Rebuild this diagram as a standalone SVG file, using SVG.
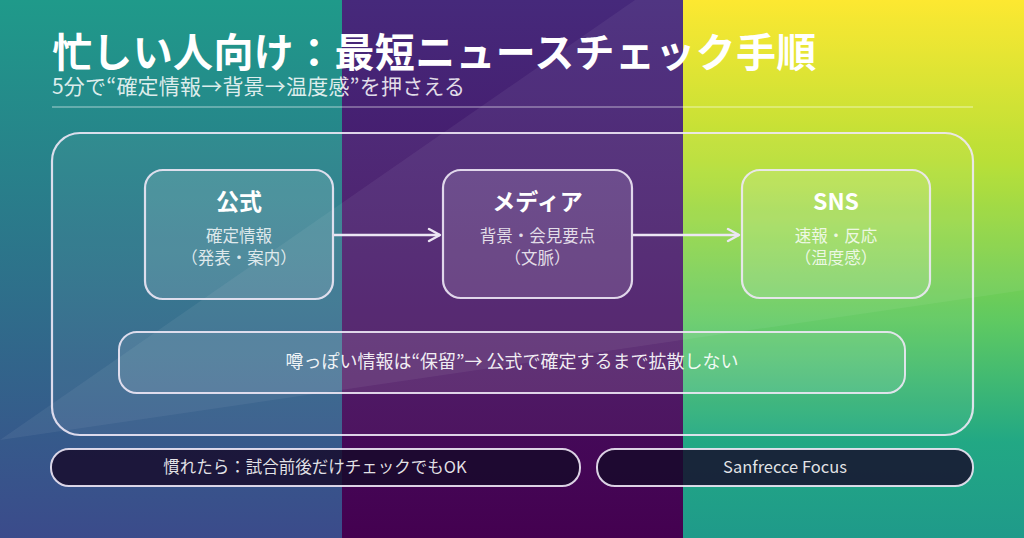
<svg xmlns="http://www.w3.org/2000/svg" width="1024" height="538" viewBox="0 0 1024 538">
<defs>
<linearGradient id="gL" x1="0" y1="0" x2="0" y2="1">
<stop offset="0" stop-color="#1f9a8a"/>
<stop offset="1" stop-color="#3b4b8b"/>
</linearGradient>
<linearGradient id="gM" x1="0" y1="0" x2="0" y2="1">
<stop offset="0" stop-color="#46297b"/>
<stop offset="1" stop-color="#440150"/>
</linearGradient>
<linearGradient id="gR" x1="0" y1="0" x2="0" y2="1">
<stop offset="0" stop-color="#fde725"/>
<stop offset="0.3" stop-color="#b5de2b"/>
<stop offset="0.6" stop-color="#5ec962"/>
<stop offset="0.82" stop-color="#22a884"/>
<stop offset="1" stop-color="#1f9a8a"/>
</linearGradient>
<marker id="arr" markerUnits="userSpaceOnUse" markerWidth="16" markerHeight="16" viewBox="0 0 16 16" refX="13" refY="8" orient="auto">
<path d="M2,2 L13,8 L2,14" fill="none" stroke="#ece6f4" stroke-width="2.5" stroke-linecap="round" stroke-linejoin="round"/>
</marker>
</defs>
<style>
text{font-family:"Noto Sans CJK JP","Noto Sans",sans-serif;}
.title{font-size:40px;font-weight:700;fill:#ffffff;letter-spacing:0.35px;}
.sub{font-size:21px;fill:#ffffff;fill-opacity:0.85;letter-spacing:0.2px;}
.node{fill:#ffffff;fill-opacity:0.13;stroke:#eee8f6;stroke-opacity:0.9;stroke-width:2.2;}
.nt{font-size:23px;font-weight:700;fill:#ffffff;text-anchor:middle;}
.ns{font-size:16.5px;fill:#ffffff;fill-opacity:0.82;text-anchor:middle;}
.pill{fill:#160a2a;fill-opacity:0.82;stroke:#eee8f6;stroke-opacity:0.9;stroke-width:2;}
.pt{font-size:16.5px;fill:#ffffff;fill-opacity:0.88;text-anchor:middle;}
.conn{fill:none;stroke:#ece6f4;stroke-width:2.5;}
</style>
<rect x="0" y="0" width="342" height="538" fill="url(#gL)"/>
<rect x="342" y="0" width="341" height="538" fill="url(#gM)"/>
<rect x="683" y="0" width="341" height="538" fill="url(#gR)"/>
<polygon points="0,440 635,0 1024,0 1024,290" fill="#ffffff" fill-opacity="0.06"/>
<g id="header">
<text class="title" x="52" y="67">忙しい人向け：最短ニュースチェック手順</text>
<text class="sub" x="52" y="94">5分で“確定情報→背景→温度感”を押さえる</text>
<line x1="52" y1="107" x2="973" y2="107" stroke="#ffffff" stroke-opacity="0.3" stroke-width="2"/>
</g>
<g id="container">
<rect x="52" y="133" width="921" height="302" rx="28" fill="#ffffff" fill-opacity="0.05" stroke="#eee8f6" stroke-opacity="0.9" stroke-width="2.2"/>
</g>
<g id="node-official">
<rect class="node" x="145" y="170" width="188" height="129" rx="18"/>
<text class="nt" x="239" y="210">公式</text>
<text class="ns" x="239" y="242">確定情報</text>
<text class="ns" x="239" y="264">（発表・案内）</text>
</g>
<g id="node-media">
<rect class="node" x="443" y="170" width="189" height="128" rx="18"/>
<text class="nt" x="537.5" y="210">メディア</text>
<text class="ns" x="537.5" y="242">背景・会見要点</text>
<text class="ns" x="537.5" y="264">（文脈）</text>
</g>
<g id="node-sns">
<rect class="node" x="742" y="170" width="188" height="128" rx="18"/>
<text class="nt" x="836" y="210">SNS</text>
<text class="ns" x="836" y="242">速報・反応</text>
<text class="ns" x="836" y="264">（温度感）</text>
</g>
<g id="connectors">
<line class="conn" x1="334" y1="235" x2="440" y2="235" marker-end="url(#arr)"/>
<line class="conn" x1="633" y1="235" x2="739" y2="235" marker-end="url(#arr)"/>
</g>
<g id="note">
<rect x="119" y="332" width="786" height="61" rx="18" fill="#ffffff" fill-opacity="0.1" stroke="#eee8f6" stroke-opacity="0.9" stroke-width="2"/>
<text x="512" y="368" font-size="18" fill="#ffffff" fill-opacity="0.92" text-anchor="middle">噂っぽい情報は“保留”→ 公式で確定するまで拡散しない</text>
</g>
<g id="pill-tip">
<rect class="pill" x="51" y="449" width="529" height="37" rx="18"/>
<text class="pt" x="315" y="473">慣れたら：試合前後だけチェックでもOK</text>
</g>
<g id="pill-brand">
<rect class="pill" x="597" y="449" width="376" height="37" rx="18"/>
<text class="pt" x="785" y="473">Sanfrecce Focus</text>
</g>
</svg>
